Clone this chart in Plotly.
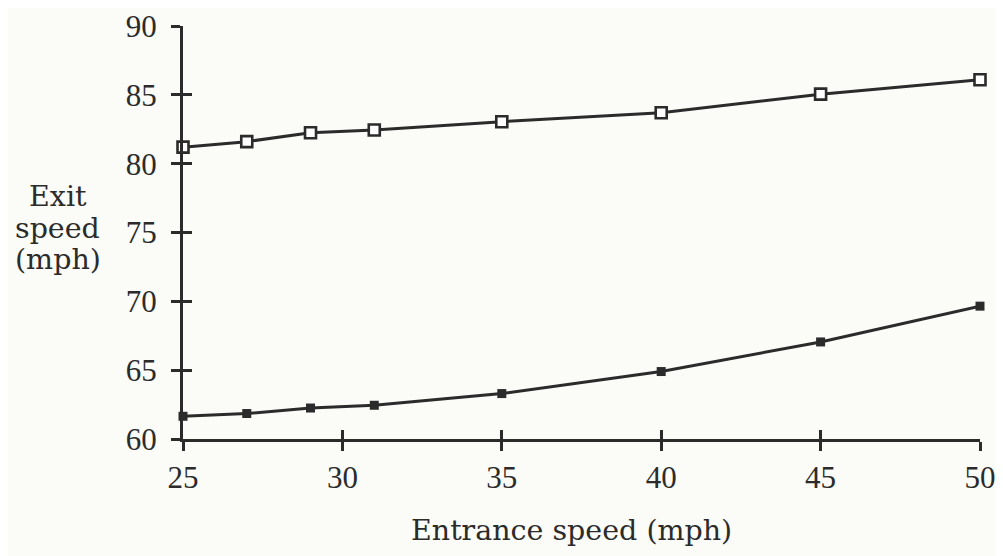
import plotly.graph_objects as go

entrance = [25, 27, 29, 31, 35, 40, 45, 50]
upper_exit = [81.2, 81.6, 82.25, 82.45, 83.05, 83.7, 85.05, 86.1]
lower_exit = [61.65, 61.85, 62.25, 62.45, 63.3, 64.9, 67.05, 69.65]

x_ticks = [25, 30, 35, 40, 45, 50]
y_ticks = [60, 65, 70, 75, 80, 85, 90]

ink = "#2b2b2b"
bg = "#fbfcf8"
tick_font = dict(family="Liberation Serif, Times New Roman, serif", size=31, color=ink)
title_font = dict(family="DejaVu Serif, serif", size=28.5, color=ink)

fig = go.Figure()
fig.add_trace(go.Scatter(
    x=entrance, y=upper_exit, mode="lines+markers", cliponaxis=False,
    line=dict(color=ink, width=3),
    marker=dict(symbol="square", size=11, color="white", line=dict(color=ink, width=2.6)),
))
fig.add_trace(go.Scatter(
    x=entrance, y=lower_exit, mode="lines+markers", cliponaxis=False,
    line=dict(color=ink, width=3),
    marker=dict(symbol="square", size=9, color=ink, line=dict(color=ink, width=0)),
))

axis_common = dict(showgrid=False, zeroline=False, linecolor=ink, linewidth=3,
                   tickcolor=ink, tickwidth=3, ticklen=9, tickfont=tick_font,
                   automargin=False)

# plot area in screen px: x 183..980, y 26..439 (page offset 8px)
fig.update_layout(
    width=995, height=548,
    margin=dict(l=175, r=23, t=18, b=117),
    paper_bgcolor=bg, plot_bgcolor=bg,
    showlegend=False,
    xaxis=dict(range=[25, 50], tickvals=x_ticks, ticks="outside", showline=True, **axis_common),
    yaxis=dict(range=[60, 90], tickvals=y_ticks, ticks="outside", showline=True,
               ticklabelstandoff=8, **axis_common),
    xaxis2=dict(range=[25, 50], tickvals=x_ticks, ticks="inside", showline=False,
                showticklabels=False, overlaying="x", anchor="y", **axis_common),
    yaxis2=dict(range=[60, 90], tickvals=y_ticks, ticks="inside", showline=False,
                showticklabels=False, overlaying="y", anchor="x", **axis_common),
)
fig.add_trace(go.Scatter(x=[None], y=[None], xaxis="x2", yaxis="y2", showlegend=False))

def px_x(px):
    return (px - 183) / (980 - 183)

def px_y(py):
    return (439 - py) / (439 - 26)

for line, py in [("Exit", 196), ("speed", 228), ("(mph)", 260)]:
    fig.add_annotation(text=line, xref="paper", yref="paper", x=px_x(57.5), y=px_y(py),
                       showarrow=False, font=title_font, xanchor="center", yanchor="middle")

fig.add_annotation(text="Entrance speed (mph)", xref="paper", yref="paper",
                   x=px_x(571), y=px_y(530), showarrow=False, font=title_font,
                   xanchor="center", yanchor="middle")

fig.write_html("out.html")
